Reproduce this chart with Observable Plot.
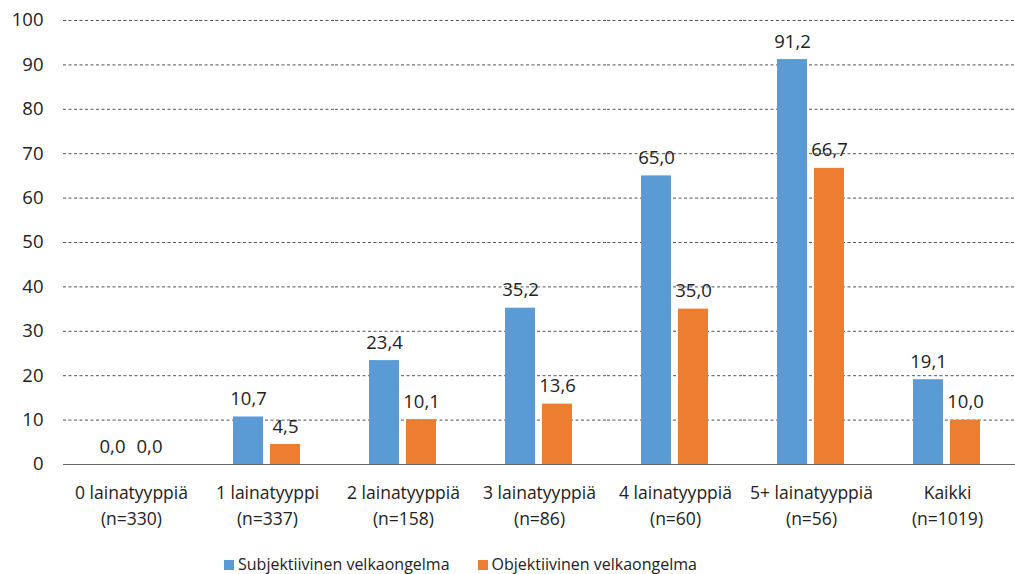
<!DOCTYPE html>
<html><head><meta charset="utf-8">
<script src="https://cdn.jsdelivr.net/npm/d3@7"></script>
<script src="https://cdn.jsdelivr.net/npm/@observablehq/plot@0.6"></script>
<style>
body{margin:0;background:#fff;font-family:"Open Sans",sans-serif;}
#legend{display:flex;margin-left:224px;margin-top:8px;font-size:16px;color:#222;line-height:22px;}
#legend div{margin-right:28px;}
#legend span.sw{display:inline-block;width:10px;height:10px;margin-right:4px;}
</style></head><body>
<div id="chart"></div>
<div id="legend"></div>
<script>
const categories = ["0 lainatyyppiä\n(n=330)","1 lainatyyppi\n(n=337)","2 lainatyyppiä\n(n=158)","3 lainatyyppiä\n(n=86)","4 lainatyyppiä\n(n=60)","5+ lainatyyppiä\n(n=56)","Kaikki\n(n=1019)"];
const series = ["Subjektiivinen velkaongelma","Objektiivinen velkaongelma"];
const subjektiivinen = [0.0,10.7,23.4,35.2,65.0,91.2,19.1];
const objektiivinen = [0.0,4.5,10.1,13.6,35.0,66.7,10.0];
const colors = ["#5B9BD5","#ED7D31"];
const yTicks = [0,10,20,30,40,50,60,70,80,90,100];

const data = [];
categories.forEach((c,i)=>{
  data.push({cat:c, s:series[0], v:subjektiivinen[i]});
  data.push({cat:c, s:series[1], v:objektiivinen[i]});
});
const fmt = v => v.toFixed(1).replace(".", ",");

const chart = Plot.plot({
  width:1015, height:545,
  marginLeft:63, marginRight:0, marginTop:20, marginBottom:81,
  style:{fontFamily:"'Open Sans', sans-serif", fontSize:"17px", color:"#222"},
  fx:{domain:categories, padding:0, label:null, axis:null},
  x:{domain:series, paddingInner:0.18, paddingOuter:0.88, axis:null},
  y:{domain:[0,100], ticks:yTicks, label:null, axis:null},
  color:{domain:series, range:colors},
  marks:[
    Plot.ruleY(yTicks.filter(d=>d>0), {stroke:"#555", strokeDasharray:"3,2.5", strokeWidth:1}),
    Plot.axisY({ticks:yTicks, tickSize:0, tickPadding:20, fontSize:18.5, label:null}),
    Plot.axisFx({anchor:"bottom", tickSize:0, tickPadding:16, fontSize:17.5, lineHeight:1.5, label:null}),
    Plot.barY(data, {fx:"cat", x:"s", y:"v", fill:"s"}),
    Plot.ruleY([0], {stroke:"#666", strokeWidth:1.2}),
    Plot.text(data, {fx:"cat", x:"s", y:"v", text:d=>fmt(d.v), lineAnchor:"bottom", dy:-12, fontSize:18.5, fill:"#222"})
  ]
});
document.getElementById("chart").appendChild(chart);
const lg = document.getElementById("legend");
series.forEach((s,i)=>{
  const d = document.createElement("div");
  d.innerHTML = `<span class="sw" style="background:${colors[i]}"></span>${s}`;
  lg.appendChild(d);
});
</script>
</body></html>
